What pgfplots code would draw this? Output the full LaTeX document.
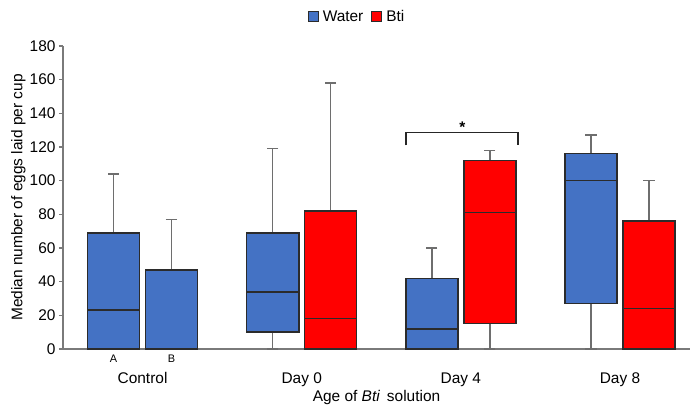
\documentclass[border=0pt]{standalone}
\usepackage{pgfplots}
\pgfplotsset{compat=1.18}
\usepgfplotslibrary{statistics}
\usepackage{fontspec}
\setmainfont{Liberation Sans}
\definecolor{wblue}{HTML}{4472C4}
\definecolor{bred}{HTML}{FF0000}
\definecolor{edge}{HTML}{2B2B2B}
\definecolor{wgray}{HTML}{6E6E6E}
\definecolor{axgray}{HTML}{7A7A7A}
\begin{document}
\begin{tikzpicture}
\path[use as bounding box] (-63bp,-57bp) rectangle (632bp,349bp);
\begin{axis}[
  scale only axis, width=627bp, height=303bp,
  at={(0,0)}, anchor=south west,
  xmin=-0.5, xmax=3.44, ymin=0, ymax=180,
  axis lines=left,
  axis line style={-, draw=axgray, line width=1.3pt},
  ytick={0,20,...,180},
  tick align=outside, major tick length=4bp,
  y tick style={draw=axgray, line width=1.3pt},
  xtick={0,1,2,3}, xticklabels={Control,Day 0,Day 4,Day 8},
  x tick style={draw=none},
  xticklabel style={yshift=-16bp},
  tick label style={font=\fontsize{15.5}{18}\selectfont},
  /pgf/number format/assume math mode=true,
  ylabel={Median number of eggs laid per cup},
  ylabel style={font=\fontsize{15.5}{18}\selectfont, at={(axis description cs:-0.071,0.5)}, anchor=center},
  xlabel={Age of \textit{Bti}\, solution},
  xlabel style={font=\fontsize{15.5}{18}\selectfont, at={(axis description cs:0.5,0)}, anchor=north, yshift=-38bp},
  clip=false,
  boxplot/draw direction=y,
  boxplot/box extend=0.327,
  boxplot/whisker extend=0.07,
  boxplot/every whisker/.style={draw=wgray, line width=1.5pt},
  boxplot/every median/.style={draw=edge, line width=1.6pt},
  boxplot/every box/.style={draw=edge, line width=1.5pt},
  legend columns=2,
  legend style={draw=none, fill=none, at={(0.469,1.096)}, anchor=center,
    font=\fontsize{15.5}{18}\selectfont,
    /tikz/every even column/.append style={column sep=6bp}},
  legend image code/.code={\draw[#1, line width=1pt] (0bp,-5bp) rectangle (10bp,5bp);},
]
% Control A (Water)
\addplot[forget plot, fill=wblue, draw=edge, boxplot prepared={draw position=-0.182,
  lower whisker=0, lower quartile=0, median=23, upper quartile=69, upper whisker=104}] coordinates {};
% Control B (Water)
\addplot[forget plot, fill=wblue, draw=edge, boxplot prepared={draw position=0.182,
  lower whisker=0, lower quartile=0, median=0.4, upper quartile=47, upper whisker=77}] coordinates {};
% Day 0
\addplot[forget plot, fill=wblue, draw=edge, boxplot prepared={draw position=0.818,
  lower whisker=0, lower quartile=10, median=34, upper quartile=69, upper whisker=119}] coordinates {};
\addplot[forget plot, fill=bred, draw=edge, boxplot prepared={draw position=1.182,
  lower whisker=0, lower quartile=0, median=18, upper quartile=82, upper whisker=158}] coordinates {};
% Day 4
\addplot[forget plot, fill=wblue, draw=edge, boxplot prepared={draw position=1.818,
  lower whisker=0, lower quartile=0, median=12, upper quartile=42, upper whisker=60}] coordinates {};
\addplot[forget plot, fill=bred, draw=edge, boxplot prepared={draw position=2.182,
  lower whisker=0, lower quartile=15, median=81, upper quartile=112, upper whisker=118}] coordinates {};
% Day 8
\addplot[forget plot, fill=wblue, draw=edge, boxplot prepared={draw position=2.818,
  lower whisker=0, lower quartile=27, median=100, upper quartile=116, upper whisker=127}] coordinates {};
\addplot[forget plot, fill=bred, draw=edge, boxplot prepared={draw position=3.182,
  lower whisker=0, lower quartile=0, median=24, upper quartile=76, upper whisker=100}] coordinates {};

\addlegendimage{fill=wblue, draw=edge}
\addlegendentry{\hspace{2bp}Water}
\addlegendimage{fill=bred, draw=edge}
\addlegendentry{\hspace{2bp}Bti}

% significance bracket
\draw[black!85, line width=1.6pt] (axis cs:1.654,121) -- (axis cs:1.654,128.5) -- (axis cs:2.36,128.5) -- (axis cs:2.36,121);
\node[anchor=base, inner sep=0pt, font=\fontsize{15.5}{18}\selectfont\bfseries] at (axis cs:2.01,128.6) {*};
% group labels
\node[anchor=north, inner sep=0pt, yshift=-6bp, font=\fontsize{11}{13}\selectfont] at (axis cs:-0.182,0) {A};
\node[anchor=north, inner sep=0pt, yshift=-6bp, font=\fontsize{11}{13}\selectfont] at (axis cs:0.182,0) {B};
\end{axis}
\end{tikzpicture}
\end{document}
